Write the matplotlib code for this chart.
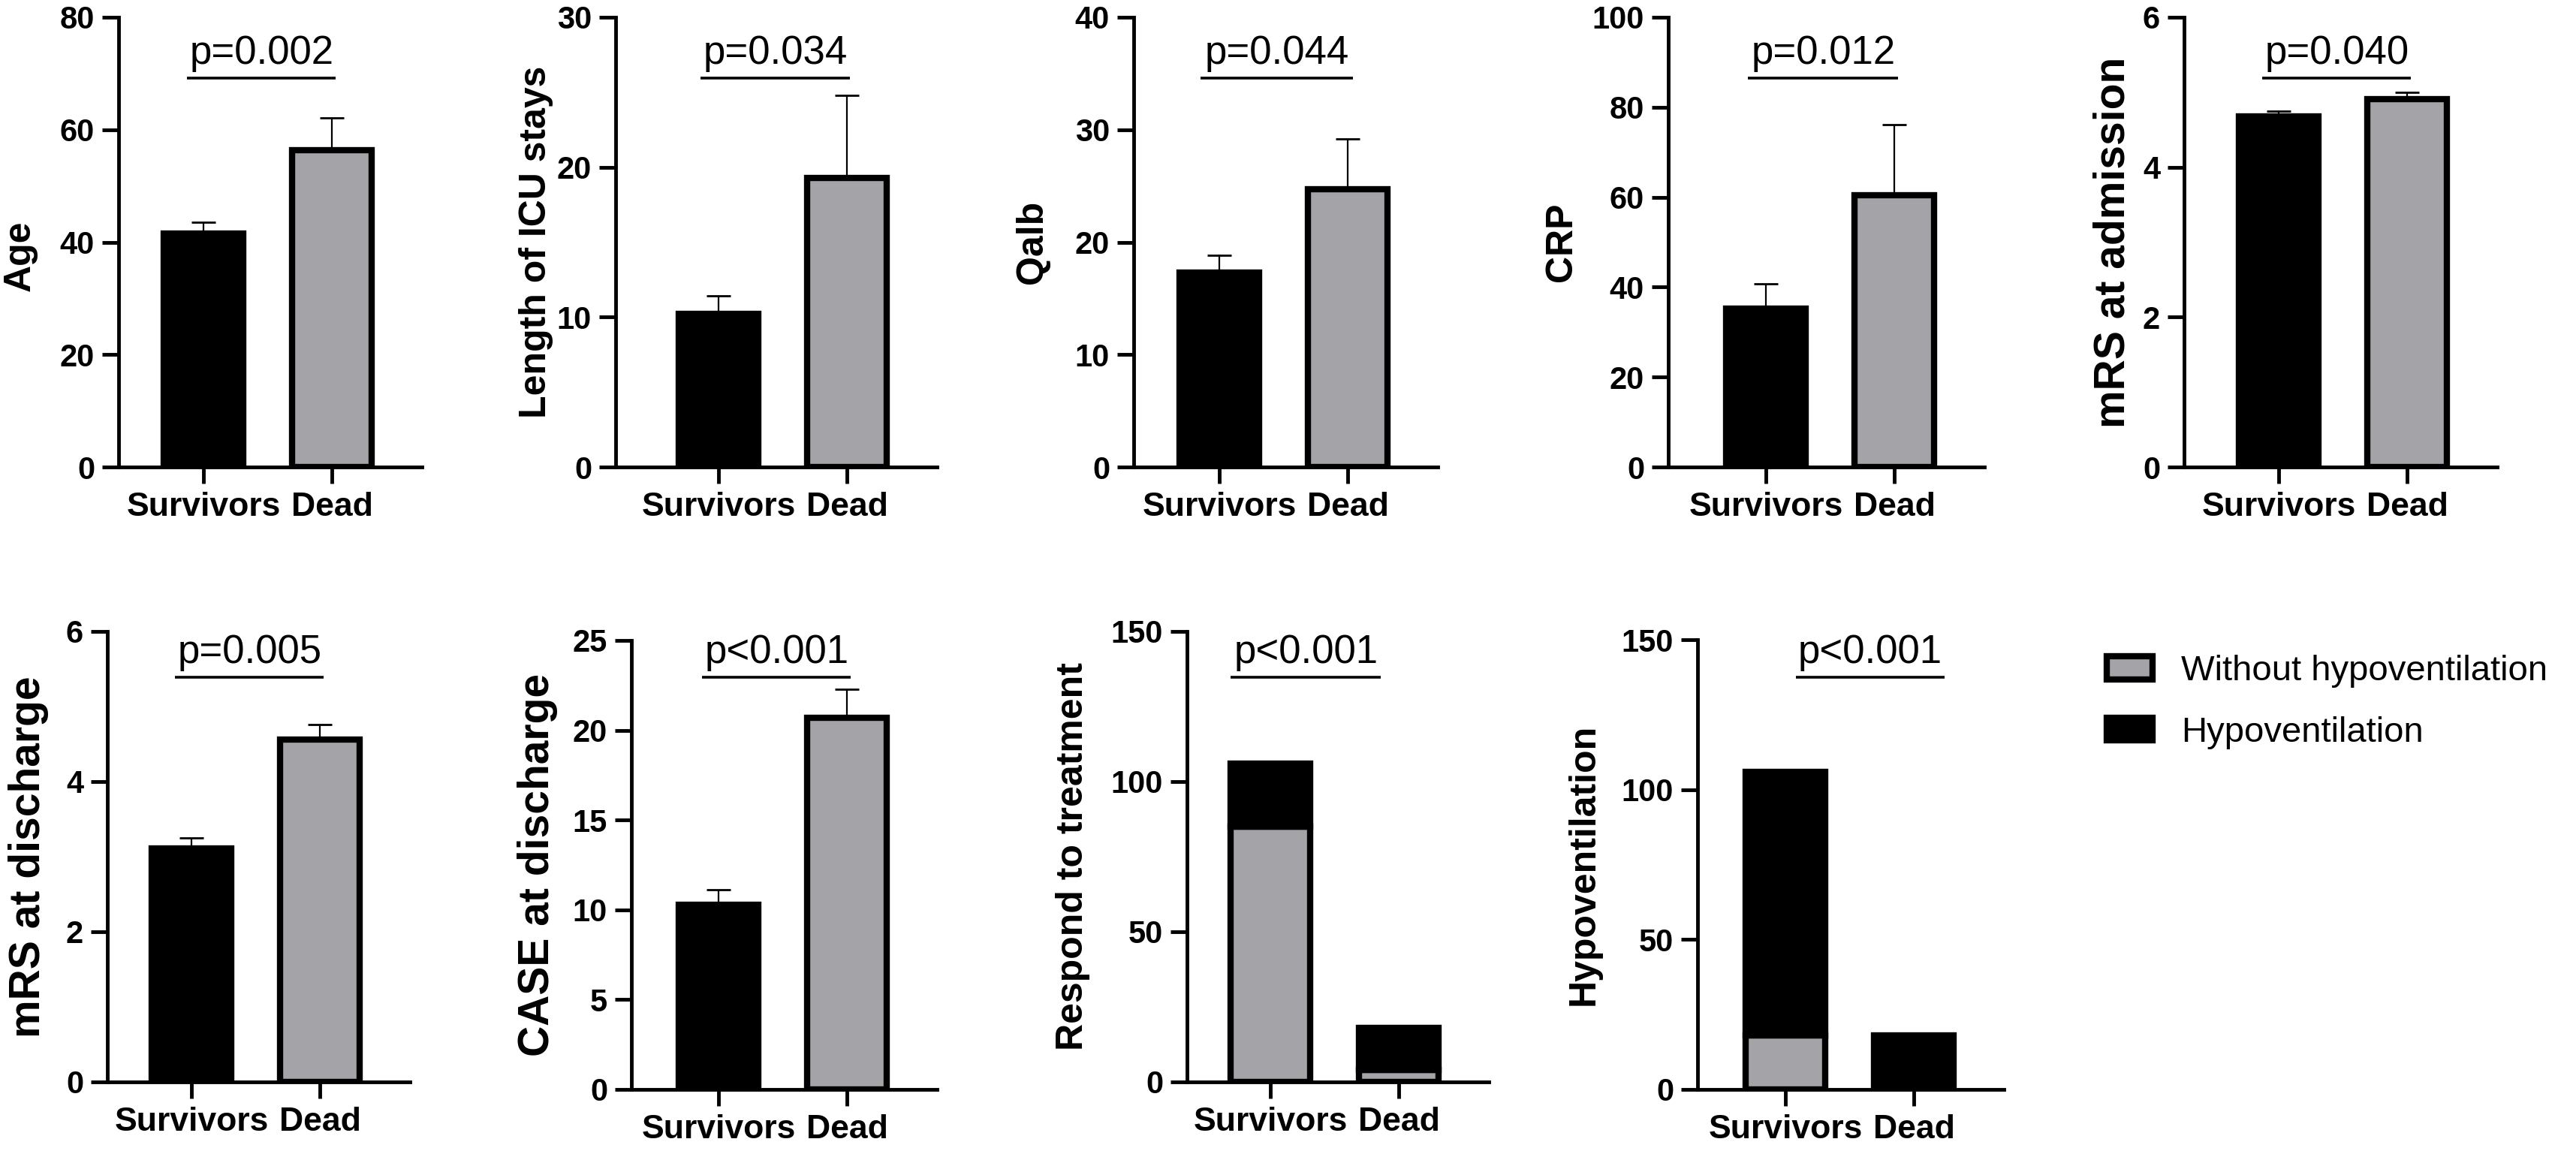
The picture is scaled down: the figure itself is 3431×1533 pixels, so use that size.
import matplotlib
matplotlib.use("Agg")
import matplotlib.pyplot as plt
from matplotlib.patches import Patch

plt.rcParams['font.family'] = ['Liberation Sans', 'DejaVu Sans']

## Daten
groups = ["Survivors", "Dead"]

age_mean = [41.5, 56.3]
age_sem = [2.0, 5.8]
icu_mean = [10.2, 19.3]
icu_sem = [1.2, 5.5]
qalb_mean = [17.3, 24.7]
qalb_sem = [1.5, 4.5]
crp_mean = [35.2, 60.4]
crp_sem = [5.6, 15.7]
mrs_adm_mean = [4.68, 4.91]
mrs_adm_sem = [0.07, 0.09]
mrs_dis_mean = [3.11, 4.56]
mrs_dis_sem = [0.14, 0.20]
case_mean = [10.3, 20.7]
case_sem = [0.8, 1.6]

respond_without = [85, 4]
respond_hypo = [21, 14]
hypo_without = [18, 0]
hypo_hypo = [88, 18]

p_values = ["p=0.002", "p=0.034", "p=0.044", "p=0.012", "p=0.040",
            "p=0.005", "p<0.001", "p<0.001", "p<0.001"]
legend_labels = ["Without hypoventilation", "Hypoventilation"]

## Layout (Pixel im Originalbild)
W, H = 3431, 1533
gray = '#a3a3a8'
px_per_cat = 171.0

# (links, rechts, oben, unten)
boxes = [(158, 562, 23, 622), (820, 1248, 23, 622), (1510, 1915, 23, 622),
         (2222, 2643, 23, 622), (2909, 3326, 23, 622),
         (143, 546, 841, 1441), (841, 1248, 853, 1451), (1581, 1983, 841, 1441),
         (2261, 2669, 852, 1451)]
ylims = [(0, 80, 20), (0, 30, 10), (0, 40, 10), (0, 100, 20), (0, 6, 2),
         (0, 6, 2), (0, 25, 5), (0, 150, 50), (0, 150, 50)]
ylabels = ["Age", "Length of ICU stays", "Qalb", "CRP", "mRS at admission",
           "mRS at discharge", "CASE at discharge", "Respond to treatment", "Hypoventilation"]
ylabel_size = [36, 36, 36, 36, 41, 41, 41, 36, 36]
ylabel_off = [131, 106, 135, 142, 94, 105, 125, 152, 151]
ylabel_ypos = [0.47, 0.5, 0.5, 0.5, 0.5, 0.5, 0.5, 0.5, 0.5]
sig_x = [(-0.13, 1.03), (-0.14, 1.02), (-0.15, 1.04), (-0.14, 1.03), (-0.13, 1.03),
         (-0.13, 1.03), (-0.13, 1.03), (-0.31, 0.86), (0.08, 1.24)]
sig_ypix = [104, 104, 104, 104, 104, 902, 902, 902, 902]

fig = plt.figure(figsize=(W / 100, H / 100), dpi=100)

means = [age_mean, icu_mean, qalb_mean, crp_mean, mrs_adm_mean, mrs_dis_mean, case_mean]
sems = [age_sem, icu_sem, qalb_sem, crp_sem, mrs_adm_sem, mrs_dis_sem, case_sem]
stacks = [(respond_without, respond_hypo), (hypo_without, hypo_hypo)]

x = [0, 1]
bar_w = 0.62
for ii, (l, r, t, b) in enumerate(boxes):
    ax = fig.add_axes([l / W, 1 - b / H, (r - l) / W, (b - t) / H])
    ymin, ymax, ystep = ylims[ii]
    if ii < 7:
        ax.errorbar(x, means[ii], yerr=[[0, 0], sems[ii]], fmt='none', ecolor='black',
                    elinewidth=1.6, capsize=11.5, capthick=2, zorder=1)
        ax.bar(x, means[ii], width=bar_w, color=['black', gray], edgecolor='black',
               linewidth=6, zorder=2)
    else:
        without, hypo = stacks[ii - 7]
        ax.bar(x, without, width=bar_w, color=gray, edgecolor='black', linewidth=6, zorder=2)
        ax.bar(x, hypo, bottom=without, width=bar_w, color='black', edgecolor='black',
               linewidth=6, zorder=2)

    ax.set_xlim(1.70 - (r - l) / px_per_cat, 1.70)
    ax.set_ylim(ymin, ymax)
    ax.set_yticks(list(range(ymin, ymax + 1, ystep)))
    ax.set_xticks(x)
    ax.set_xticklabels(groups, fontsize=32, fontweight='bold')
    for lab in ax.get_yticklabels():
        lab.set_fontsize(30)
        lab.set_fontweight('bold')
    ax.tick_params(axis='both', width=3.5, length=16, direction='out')
    ax.tick_params(axis='y', pad=7)
    ax.tick_params(axis='x', pad=8)
    for side in ['top', 'right']:
        ax.spines[side].set_visible(False)
    for side in ['left', 'bottom']:
        ax.spines[side].set_linewidth(3.5)

    ax.set_ylabel(ylabels[ii], fontsize=ylabel_size[ii], fontweight='bold', va='center')
    ax.yaxis.set_label_coords(-ylabel_off[ii] / (r - l), ylabel_ypos[ii])

    # Signifikanzbalken
    y_sig = ymin + (b - sig_ypix[ii]) / (b - t) * (ymax - ymin)
    x0, x1 = sig_x[ii]
    ax.plot([x0, x1], [y_sig, y_sig], color='black', linewidth=2.6, clip_on=False,
            solid_capstyle='butt')
    ax.annotate(p_values[ii], xy=((x0 + x1) / 2, y_sig), xytext=(0, 14),
                textcoords='offset points', ha='center', va='baseline',
                fontsize=38, annotation_clip=False)

handles = [Patch(facecolor=gray, edgecolor='black', linewidth=6),
           Patch(facecolor='black', edgecolor='black', linewidth=6)]
fig.legend(handles, legend_labels, loc='upper left', bbox_to_anchor=(2806 / W, 1 - 872 / H),
           frameon=False, fontsize=34, handlelength=1.3, handleheight=0.62,
           handletextpad=0.8, labelspacing=0.8, borderpad=0, borderaxespad=0)

fig.savefig("out.png", dpi=100)
